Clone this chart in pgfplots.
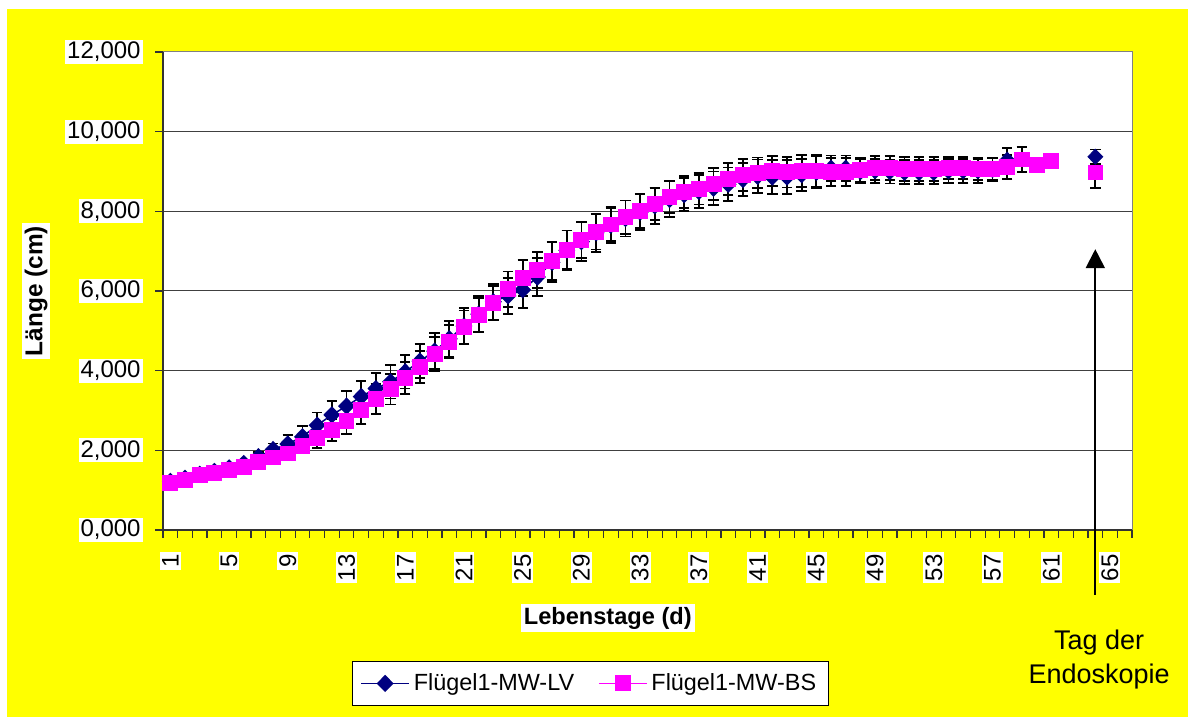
\documentclass[border=0pt]{standalone}
\usepackage{pgfplots}
\pgfplotsset{compat=1.18}
\usepackage{pgfplotstable}
\usepackage{fontspec}
\setmainfont{Liberation Sans}
\usetikzlibrary{arrows.meta}
\definecolor{lvblue}{HTML}{000080}
\definecolor{bsmag}{HTML}{FF00FF}
\definecolor{bgyellow}{HTML}{FFFF00}

\pgfplotstableread{
x y e
1 1.22 0.05
2 1.30 0.05
3 1.40 0.06
4 1.47 0.06
5 1.56 0.07
6 1.67 0.08
7 1.84 0.12
8 2.02 0.15
9 2.16 0.22
10 2.34 0.28
11 2.63 0.32
12 2.89 0.35
13 3.11 0.38
14 3.35 0.40
15 3.55 0.40
16 3.72 0.42
17 3.97 0.42
18 4.24 0.42
19 4.49 0.45
20 4.80 0.45
21 5.12 0.45
22 5.42 0.45
23 5.73 0.45
24 5.88 0.45
25 6.03 0.45
26 6.35 0.48
27 6.72 0.50
28 7.02 0.50
29 7.24 0.48
30 7.46 0.48
31 7.65 0.45
32 7.82 0.45
33 7.98 0.45
34 8.14 0.45
35 8.30 0.45
36 8.42 0.42
37 8.50 0.42
38 8.58 0.42
39 8.68 0.42
40 8.80 0.42
41 8.88 0.42
42 8.86 0.42
43 8.86 0.42
44 8.92 0.40
45 8.98 0.40
46 9.08 0.32
47 9.08 0.32
48 9.00 0.30
49 9.02 0.30
50 9.00 0.30
51 8.98 0.30
52 8.98 0.30
53 8.98 0.30
54 9.02 0.30
55 9.02 0.30
56 9.02 0.30
57 9.05 0.30
58 9.28 0.30
}\lvdata

\pgfplotstableread{
x y e
1 1.19 0.05
2 1.25 0.05
3 1.38 0.06
4 1.44 0.06
5 1.51 0.07
6 1.59 0.08
7 1.70 0.10
8 1.82 0.12
9 1.92 0.15
10 2.12 0.20
11 2.30 0.25
12 2.51 0.28
13 2.74 0.32
14 3.01 0.35
15 3.29 0.38
16 3.53 0.38
17 3.82 0.40
18 4.10 0.40
19 4.42 0.42
20 4.73 0.42
21 5.09 0.42
22 5.40 0.42
23 5.70 0.42
24 6.04 0.45
25 6.32 0.45
26 6.52 0.45
27 6.75 0.48
28 7.04 0.48
29 7.28 0.45
30 7.49 0.45
31 7.67 0.42
32 7.85 0.42
33 8.01 0.42
34 8.18 0.40
35 8.36 0.40
36 8.48 0.40
37 8.57 0.40
38 8.68 0.40
39 8.81 0.40
40 8.91 0.40
41 8.97 0.38
42 9.01 0.38
43 8.98 0.38
44 9.02 0.40
45 9.02 0.40
46 8.99 0.35
47 8.99 0.35
48 9.03 0.30
49 9.09 0.30
50 9.09 0.30
51 9.07 0.30
52 9.06 0.30
53 9.06 0.30
54 9.09 0.28
55 9.09 0.28
56 9.07 0.28
57 9.06 0.28
58 9.12 0.30
59 9.30 0.32
60 9.16 0
61 9.26 0
}\bsdata

\pgfplotstableread{
x y e
64 9.37 0.18
}\lvendo

\pgfplotstableread{
x y e
64 8.97 0.38
}\bsendo

\begin{document}
\begin{tikzpicture}
\useasboundingbox (0,0) rectangle (594pt,358.5pt);
\fill[white] (0,0) rectangle (594pt,358.5pt);
\fill[bgyellow] (3.5pt,0) rectangle (594pt,354pt);
\begin{axis}[
  at={(81.5pt,93.5pt)}, anchor=south west,
  width=484.5pt, height=239pt, scale only axis,
  xmin=0.5, xmax=66.5, ymin=0, ymax=12,
  clip=false,
  axis background/.style={fill=white},
  axis line style={gray, line width=0.5pt},
  /pgf/number format/assume math mode=true,
  tick label style={font=\fontsize{12}{14}\selectfont, black},
  xtick pos=bottom, ytick pos=left,
  xtick={1,5,...,65},
  minor xtick={0.5,1.5,...,66.5},
  major x tick style={draw=none},
  minor x tick style={black!80, line width=0.6pt},
  minor tick length=4pt,
  major tick length=4pt,
  tick align=outside,
  ytick={0,2,...,12},
  major y tick style={black!80, line width=0.6pt},
  xticklabel style={rotate=90, anchor=east, fill=white, inner sep=1pt, xshift=-7pt},
  yticklabel style={fill=white, inner sep=1pt, xshift=-6pt,
    /pgf/number format/.cd, fixed, fixed zerofill, precision=3, use comma},
  ymajorgrids,
  major grid style={black!75, line width=0.5pt},
  xlabel={\textbf{Lebenstage (d)}},
  xlabel style={at={(axis description cs:0.459,-0.184)}, anchor=center, fill=white, inner sep=1.5pt, font=\fontsize{11.8}{15}\selectfont},
  ylabel={\textbf{Länge (cm)}},
  ylabel style={at={(axis description cs:-0.131,0.5)}, anchor=center, fill=white, inner sep=1.5pt, font=\fontsize{12.2}{15}\selectfont},
  legend columns=2,
  legend style={at={(0.441,-0.321)}, anchor=center, draw=black, fill=white, line width=0.6pt,
    font=\fontsize{11.7}{14}\selectfont, inner xsep=4pt, inner ysep=4pt,
    /tikz/every even column/.append style={column sep=10pt}},
  legend image code/.code={\draw[mark repeat=2,mark phase=2,#1] plot coordinates {(0cm,0cm) (0.42cm,0cm) (0.84cm,0cm)};},
]
\draw[black!80, line width=1pt] (rel axis cs:0,1) -- (rel axis cs:0,0) -- (rel axis cs:1,0);

\addplot[lvblue, line width=0.75pt, mark=diamond*, mark size=3.8pt, mark options={fill=lvblue, draw=lvblue, xscale=1.3},
  error bars/.cd, y dir=both, y explicit,
  error bar style={black, line width=0.9pt},
  error mark options={rotate=90, black, mark size=2.6pt, line width=0.9pt}]
  table[x=x, y=y, y error=e] {\lvdata};
\addlegendentry{Flügel1-MW-LV}

\addplot[bsmag, line width=0.75pt, mark=square*, mark size=3.6pt, mark options={fill=bsmag, draw=bsmag},
  error bars/.cd, y dir=both, y explicit,
  error bar style={black, line width=0.9pt},
  error mark options={rotate=90, black, mark size=2.6pt, line width=0.9pt}]
  table[x=x, y=y, y error=e] {\bsdata};
\addlegendentry{Flügel1-MW-BS}

\addplot[lvblue, forget plot, only marks, mark=diamond*, mark size=3.8pt, mark options={fill=lvblue, draw=lvblue, xscale=1.3},
  error bars/.cd, y dir=both, y explicit,
  error bar style={black, line width=0.9pt},
  error mark options={rotate=90, black, mark size=2.6pt, line width=0.9pt}]
  table[x=x, y=y, y error=e] {\lvendo};
\addplot[bsmag, forget plot, only marks, mark=square*, mark size=3.6pt, mark options={fill=bsmag, draw=bsmag},
  error bars/.cd, y dir=both, y explicit,
  error bar style={black, line width=0.9pt},
  error mark options={rotate=90, black, mark size=2.6pt, line width=0.9pt}]
  table[x=x, y=y, y error=e] {\bsendo};

\draw[black, line width=1pt, -{Triangle[length=9.5pt,width=9.5pt]}] (axis cs:64,-1.63) -- (axis cs:64,7.05);
\node[align=center, font=\fontsize{13.5}{17}\selectfont] at (axis cs:64.26,-3.24) {Tag der\\Endoskopie};
\end{axis}
\end{tikzpicture}
\end{document}
